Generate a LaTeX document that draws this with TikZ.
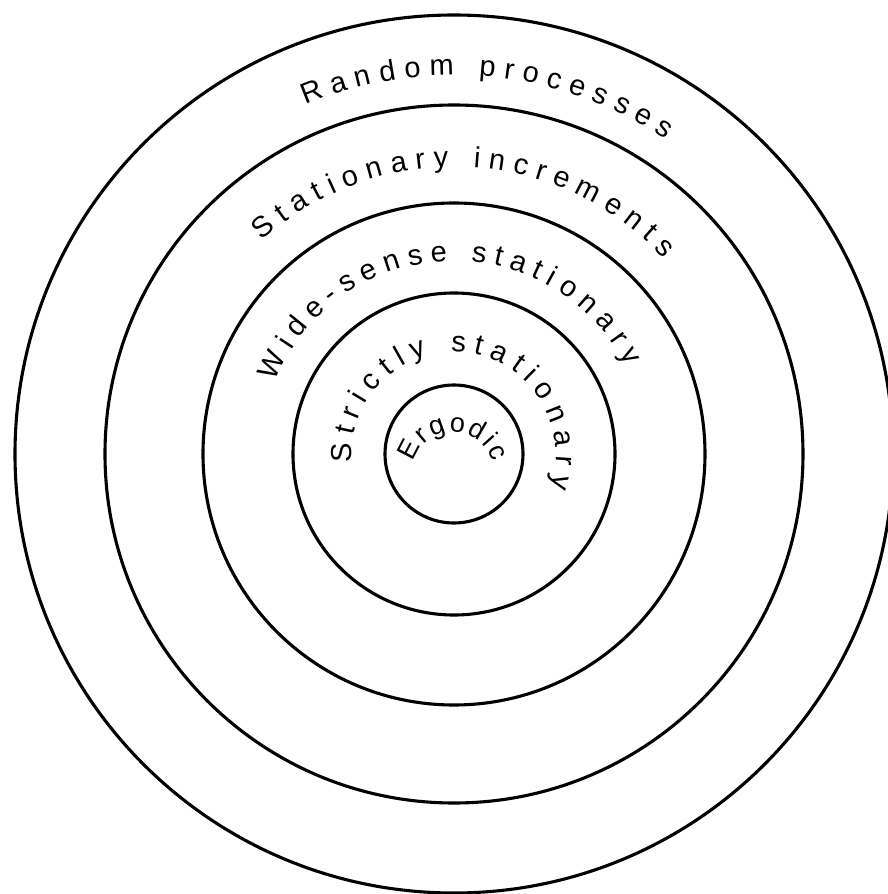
\documentclass[tikz,border=0pt]{standalone}
\usepackage{fontspec}
\newfontfamily\labfont{Liberation Sans}
\usetikzlibrary{decorations.text}
\begin{document}
\begin{tikzpicture}[x=1pt,y=1pt,
  ring/.style={line width=3.1pt},
  arclabel/.style={decorate, decoration={text along path, text align=fit to path,
     text={|\labfont\fontsize{29}{34}\selectfont|#1}}},
  smalllabel/.style={decorate, decoration={text along path, text align=fit to path,
     text={|\labfont\fontsize{27}{32}\selectfont|#1}}}]
\useasboundingbox (-454,-440) rectangle (434,454);
\clip (-454,-440) rectangle (434,454);
\coordinate (O) at (0,0);
\coordinate (E0) at (-1,-19);
\draw[ring] (O) circle[radius=439];
\draw[ring] (O) circle[radius=349];
\draw[ring] (O) circle[radius=251];
\draw[ring] (O) circle[radius=161];
\draw[ring] (O) circle[radius=69];
\path[arclabel={Random processes}] ([shift={(113:379)}]O) arc[start angle=113, end angle=56, radius=379];
\path[arclabel={Stationary increments}] ([shift={(132:287)}]O) arc[start angle=132, end angle=43, radius=287];
\path[arclabel={Wide-sense stationary}] ([shift={(158:193)}]O) arc[start angle=158, end angle=27, radius=193];
\path[arclabel={Strictly stationary}] ([shift={(185:102)}]O) arc[start angle=185, end angle=-19, radius=102];
\path[smalllabel={Ergodic}] ([shift={(165:41)}]E0) arc[start angle=165, end angle=15, radius=41];
\end{tikzpicture}
\end{document}
